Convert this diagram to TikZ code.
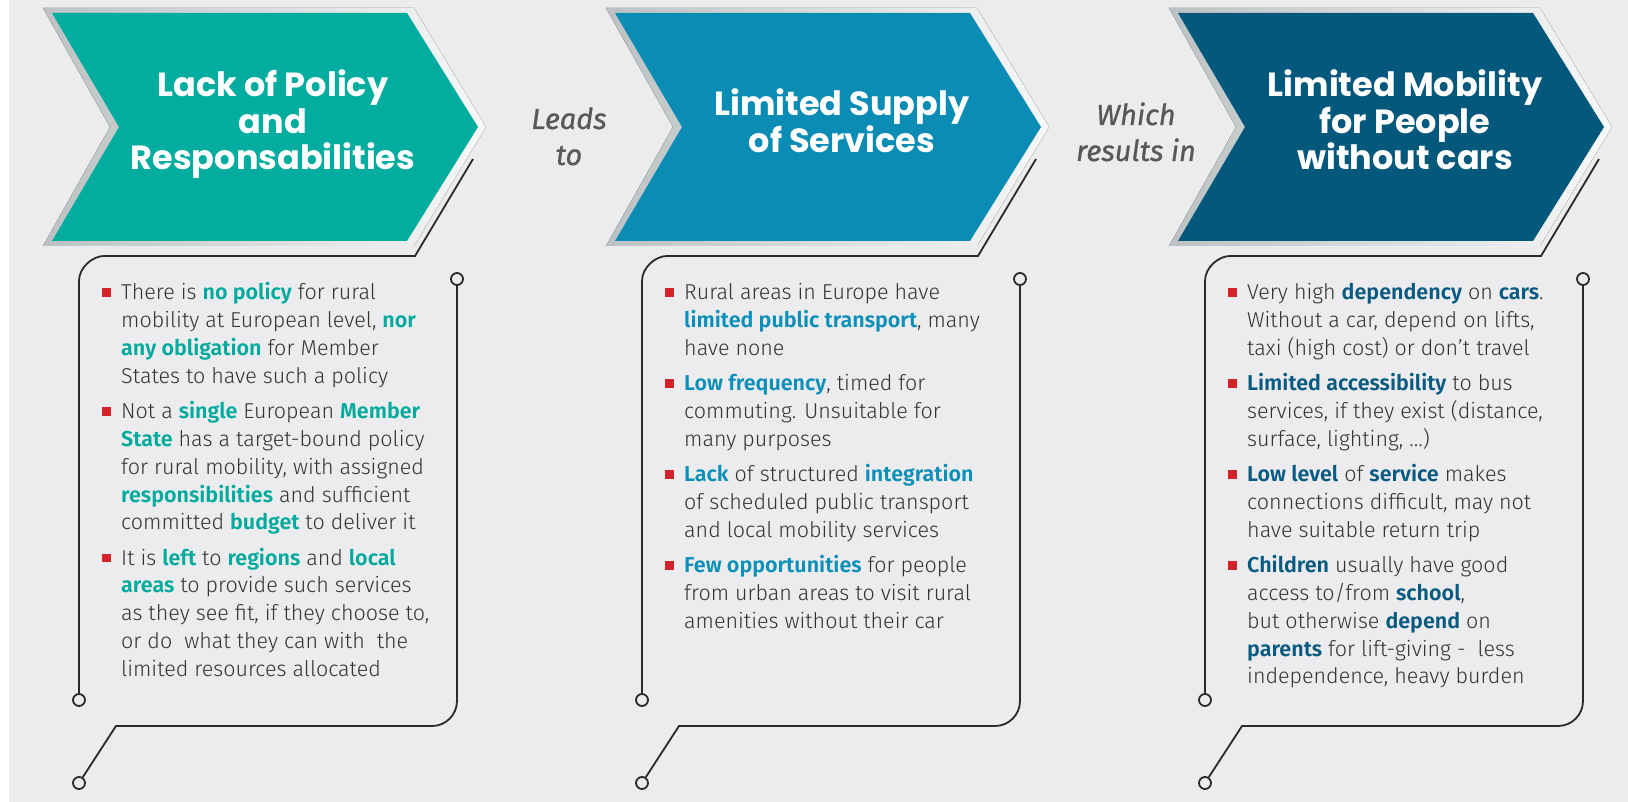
\documentclass[tikz,border=0pt]{standalone}
\usepackage{fontspec}
\setmainfont{Fira Sans}[UprightFont=* Light, BoldFont=* SemiBold]
\newfontfamily\titlefont{Poppins}
\newfontfamily\introfont{Fira Sans}[FakeBold=0.8]
\usetikzlibrary{calc}

\definecolor{pagebg}{HTML}{ECECEE}
\definecolor{tealc}{HTML}{02ADA0}
\definecolor{bluec}{HTML}{0A8CB5}
\definecolor{navyc}{HTML}{04587B}
\definecolor{tealtx}{HTML}{00AA9D}
\definecolor{bluetx}{HTML}{0A8FB8}
\definecolor{navytx}{HTML}{085A80}
\definecolor{bodytx}{HTML}{333335}
\definecolor{bulletred}{HTML}{D2232A}
\definecolor{wiregray}{HTML}{2A2A2A}
\definecolor{introgray}{HTML}{58585A}
\definecolor{rimgray}{HTML}{BCC2C3}
\definecolor{rimlight}{HTML}{F7F8F8}

% highlighted words and bullet items
\colorlet{hlcolor}{tealtx}
\newcommand\hl[1]{{\bfseries\color{hlcolor}#1}}
\newcommand\bitem[1]{\hangindent=19pt\hangafter=1\noindent
  \makebox[19pt][l]{\textcolor{bulletred}{\rule[3pt]{8.5pt}{8.5pt}}}#1\par}

\tikzset{
  rimshade/.style={left color=rimgray, right color=rimlight},
  wire/.style={draw=wiregray, line width=1.8pt},
  pin/.style={circle, draw=wiregray, line width=1.8pt, fill=pagebg,
    minimum size=12pt, inner sep=0pt},
  headline/.style={anchor=base, inner sep=0pt, text=white,
    font=\titlefont\bfseries\fontsize{33.5}{36.5}\selectfont},
  intro/.style={anchor=base, inner sep=0pt, text=introgray,
    font=\introfont\itshape\fontsize{29}{36}\selectfont},
  itemlist/.style={anchor=base west, inner sep=0pt, text=bodytx,
    font=\fontsize{21.5}{27.8}\selectfont},
}

% one column: shaded rim, chevron, callout frame with its three pins
% #1 = horizontal shift, #2 = chevron colour, #3 = name suffix
\newcommand\colframe[3]{%
  \begin{scope}[shift={(#1,0)}]
    \fill[rimshade] (43,8) -- (414,8) -- (486,127) -- (414,246) -- (43,246) -- (110,127) -- cycle;
    \fill[#2] (52,13) -- (407,13) -- (478,127) -- (407,241) -- (52,241) -- (119,127) -- cycle;
    \node[pin] (pinL#3) at (79,700) {};
    \node[pin] (pinR#3) at (457,279) {};
    \node[pin] (pinB#3) at (79,783) {};
    \coordinate (tail#3) at (473,159);
    \draw[wire] (pinL#3.north) -- (79,281)
      .. controls (79,267.2) and (92.8,256) .. (104,256) -- (415,256) -- (tail#3);
    \draw[wire] (pinR#3.south) -- (457,701)
      .. controls (457,714.8) and (445.8,726) .. (432,726) -- (116,726) -- (pinB#3);
  \end{scope}}

\begin{document}
\begin{tikzpicture}[x=1pt, y=-1pt]
  \useasboundingbox (0,0) rectangle (1628,802);
  \fill[white] (0,0) rectangle (1628,802);
  \fill[pagebg] (9,0) rectangle (1628,802);

  \colframe{0}{tealc}{A}
  \colframe{563}{bluec}{B}
  \colframe{1126}{navyc}{C}

  % chevron titles
  \node[headline] (titleA) at (273,97)
    {\parbox[t]{380pt}{\centering Lack of Policy\\and\\Responsabilities}};
  \node[headline] (titleB) at (842,116)
    {\parbox[t]{380pt}{\centering Limited Supply\\of Services}};
  \node[headline] (titleC) at (1405,97)
    {\parbox[t]{380pt}{\centering Limited Mobility\\for People\\without cars}};

  % linking words
  \node[intro] (leadsto) at (569,129)
    {\parbox[t]{160pt}{\centering Leads\\to}};
  \node[intro] (resultsin) at (1136,125)
    {\parbox[t]{160pt}{\centering Which\\results in}};

  % bullet lists
  \node[itemlist] (listA) at (102,300) {\parbox[t]{380pt}{%
    \setlength{\parskip}{7.5pt}\colorlet{hlcolor}{tealtx}%
    \bitem{There is \hl{no policy} for rural\\mobility at European level, \hl{nor}\\\hl{any obligation} for Member\\States to have such a policy}
    \bitem{Not a \hl{single} European \hl{Member}\\\hl{State} has a target-bound policy\\for rural mobility, with assigned\\\hl{responsibilities} and sufficient\\committed \hl{budget} to deliver it}
    \bitem{It is \hl{left} to \hl{regions} and \hl{local}\\\hl{areas} to provide such services\\as they see fit, if they choose to,\\or do~ what they can with~ the\\limited resources allocated}}};

  \node[itemlist] (listB) at (665,300) {\parbox[t]{380pt}{%
    \setlength{\parskip}{7.5pt}\colorlet{hlcolor}{bluetx}%
    \bitem{Rural areas in Europe have\\\hl{limited public transport}, many\\have none}
    \bitem{\hl{Low frequency}, timed for\\commuting. Unsuitable for\\many purposes}
    \bitem{\hl{Lack} of structured \hl{integration}\\of scheduled public transport\\and local mobility services}
    \bitem{\hl{Few opportunities} for people\\from urban areas to visit rural\\amenities without their car}}};

  \node[itemlist] (listC) at (1228,300) {\parbox[t]{380pt}{%
    \setlength{\parskip}{7.5pt}\colorlet{hlcolor}{navytx}%
    \bitem{Very high \hl{dependency} on \hl{cars}.\\Without a car, depend on lifts,\\taxi (high cost) or don’t travel}
    \bitem{\hl{Limited accessibility} to bus\\services, if they exist (distance,\\surface, lighting, …)}
    \bitem{\hl{Low level} of \hl{service} makes\\connections difficult, may not\\have suitable return trip}
    \bitem{\hl{Children} usually have good\\access to/from \hl{school},\\but otherwise \hl{depend} on\\\hl{parents} for lift-giving -~ less\\independence, heavy burden}}};
\end{tikzpicture}
\end{document}
